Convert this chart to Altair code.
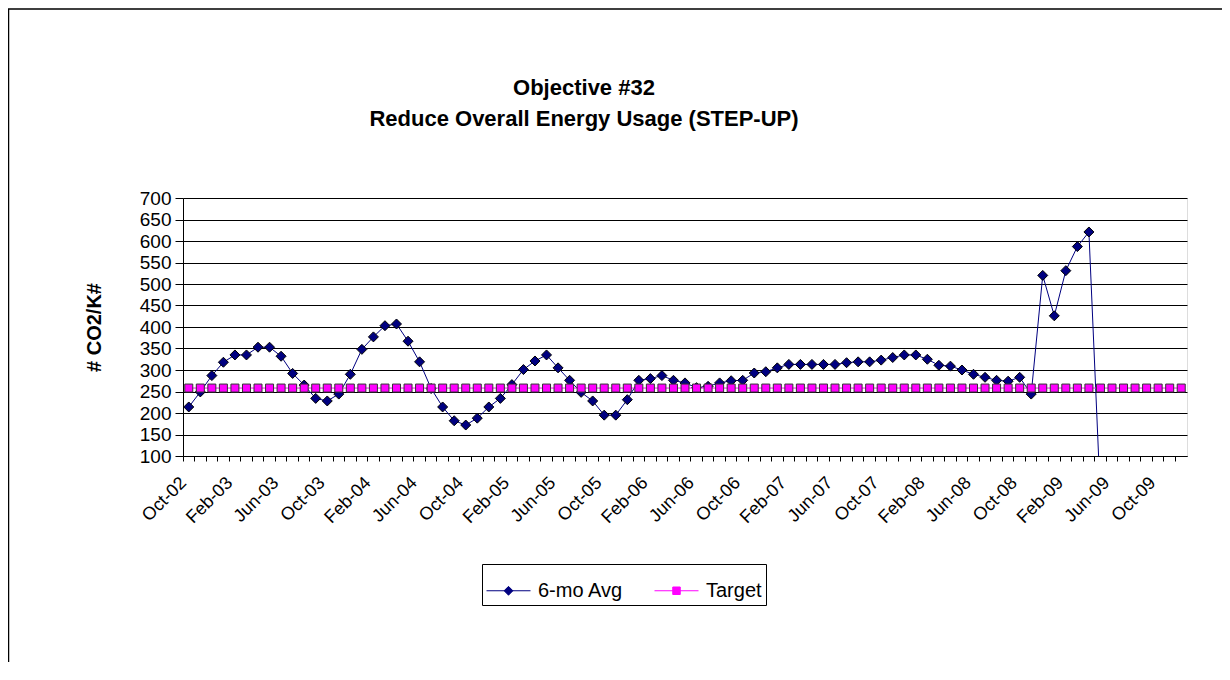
import altair as alt
import pandas as pd

# Categories: monthly labels Oct-02 .. Dec-09
MONTH_NAMES = ["Jan", "Feb", "Mar", "Apr", "May", "Jun",
               "Jul", "Aug", "Sep", "Oct", "Nov", "Dec"]
months = []
for yr in range(2, 10):
    for mi, mn in enumerate(MONTH_NAMES):
        if yr == 2 and mi < 9:
            continue
        months.append(f"{mn}-{yr:02d}")

# 6-month average series (Oct-02 .. Jul-09)
avg_values = [
    214, 249, 287, 318, 335, 335, 353, 353, 332, 292, 265, 234,
    228, 244, 290, 348, 377, 403, 407, 367, 319, 257, 214, 182,
    172, 188, 214, 234, 266, 301, 321, 335, 305, 276, 248, 228,
    195, 195, 231, 276, 280, 287, 276, 270, 259, 262, 270, 275,
    276, 293, 296, 305, 313, 313, 313, 313, 313, 317, 319, 319,
    323, 329, 335, 335, 325, 311, 309, 300, 290, 283, 276, 274,
    283, 244, 520, 426, 531, 587, 621, 0,
]
# Target series (constant), all months
target_values = [258] * len(months)

series_names = ["6-mo Avg", "Target"]
series_colors = ["#000080", "#FF00FF"]
legend_shapes = [
    "M-1,0L1,0M0,-0.2L0.2,0L0,0.2L-0.2,0Z",
    "M-1,0L1,0M-0.17,-0.17L0.17,-0.17L0.17,0.17L-0.17,0.17Z",
]
y_ticks = [100, 150, 200, 250, 300, 350, 400, 450, 500, 550, 600, 650, 700]

rows = []
for i, v in enumerate(avg_values):
    rows.append({"month": months[i], "series": series_names[0], "value": v})
for i, v in enumerate(target_values):
    rows.append({"month": months[i], "series": series_names[1], "value": v})
df = pd.DataFrame(rows)

FONT = "Liberation Sans"

x_enc = alt.X(
    "month:N",
    sort=months,
    scale=alt.Scale(type="band", paddingInner=0, paddingOuter=0),
    axis=alt.Axis(
        title=None,
        bandPosition=0,
        labelExpr="indexof(['Oct','Feb','Jun'], slice(datum.value, 0, 3)) >= 0 ? datum.value : ''",
        labelAngle=315,
        labelAlign="right",
        labelBaseline="middle",
        labelFontSize=18,
        labelFont=FONT,
        labelColor="black",
        labelPadding=19,
        labelOffset=-5,
        labelOverlap=False,
        labelBound=False,
        tickSize=5,
        tickColor="black",
        domainColor="black",
        grid=False,
    ),
)
y_enc = alt.Y(
    "value:Q",
    scale=alt.Scale(domain=[100, 700], nice=False, zero=False),
    axis=alt.Axis(
        values=y_ticks,
        title="# CO2/K#",
        titleFont=FONT,
        titleFontSize=20,
        titleFontWeight="bold",
        titleColor="black",
        titleAngle=270,
        titleX=-89,
        titleY=129,
        titleAlign="center",
        titleBaseline="middle",
        labelFont=FONT,
        labelFontSize=19,
        labelColor="black",
        labelPadding=4,
        tickSize=8,
        tickColor="black",
        domainColor="black",
        grid=True,
        gridColor="black",
        gridWidth=1,
    ),
)

legend = alt.Legend(
    title=None,
    orient="none",
    legendX=299,
    legendY=366,
    direction="horizontal",
    strokeColor="black",
    fillColor="white",
    padding=4,
    labelFont=FONT,
    labelFontSize=20,
    labelColor="black",
    labelOffset=7,
    columnPadding=28,
    symbolSize=1936,
    symbolStrokeWidth=1,
    symbolOpacity=1,
)

base = alt.Chart(df)

# chart-area frame (top and left edges visible, as in the reference)
frame = alt.Chart(pd.DataFrame({"f": [0]})).mark_rect(
    fillOpacity=0, stroke="black", strokeWidth=1.5
).encode(
    x=alt.value(-174.5), x2=alt.value(1100), y=alt.value(-189), y2=alt.value(600)
)

avg_line = base.transform_filter(alt.datum.series == series_names[0]).mark_line(
    strokeWidth=1, clip=True, color=series_colors[0]
).encode(x=x_enc, y=y_enc)

avg_pts = base.transform_filter(alt.datum.series == series_names[0]).mark_point(
    shape="diamond", filled=True, size=100, fill=series_colors[0],
    stroke="black", strokeWidth=1, opacity=1, clip=True
).encode(x=x_enc, y=y_enc)

tgt_line = base.transform_filter(alt.datum.series == series_names[1]).mark_line(
    strokeWidth=1, clip=True, color=series_colors[1]
).encode(x=x_enc, y=y_enc)

tgt_pts = base.transform_filter(alt.datum.series == series_names[1]).mark_point(
    shape="square", filled=True, size=64, fill=series_colors[1],
    stroke="#333333", strokeWidth=1, opacity=1, clip=True
).encode(x=x_enc, y=y_enc)

# legend-only layer (invisible marks) to produce line+marker legend symbols
leg_layer = alt.Chart(pd.DataFrame({"series": series_names})).mark_point(
    opacity=0
).encode(
    fill=alt.Fill("series:N", scale=alt.Scale(domain=series_names, range=series_colors), legend=legend),
    stroke=alt.Stroke("series:N", scale=alt.Scale(domain=series_names, range=series_colors), legend=legend),
    shape=alt.Shape("series:N", scale=alt.Scale(domain=series_names, range=legend_shapes), legend=legend),
)

chart = alt.layer(frame, avg_line, avg_pts, tgt_line, tgt_pts, leg_layer).properties(
    width=1004,
    height=258,
    autosize=alt.AutoSizeParams(type="none"),
    padding={"left": 175, "top": 190, "right": 35, "bottom": 206},
    title=alt.TitleParams(
        text=["Objective #32", "Reduce Overall Energy Usage (STEP-UP)"],
        font=FONT,
        fontSize=22,
        fontWeight="bold",
        color="black",
        anchor="middle",
        frame="group",
        dx=-101,
        offset=-123,
        lineHeight=31,
    ),
).configure_view(
    stroke="#808080", strokeWidth=1
).configure(background="white")

chart.save("out.html", embed_options={"renderer": "svg", "actions": False})
